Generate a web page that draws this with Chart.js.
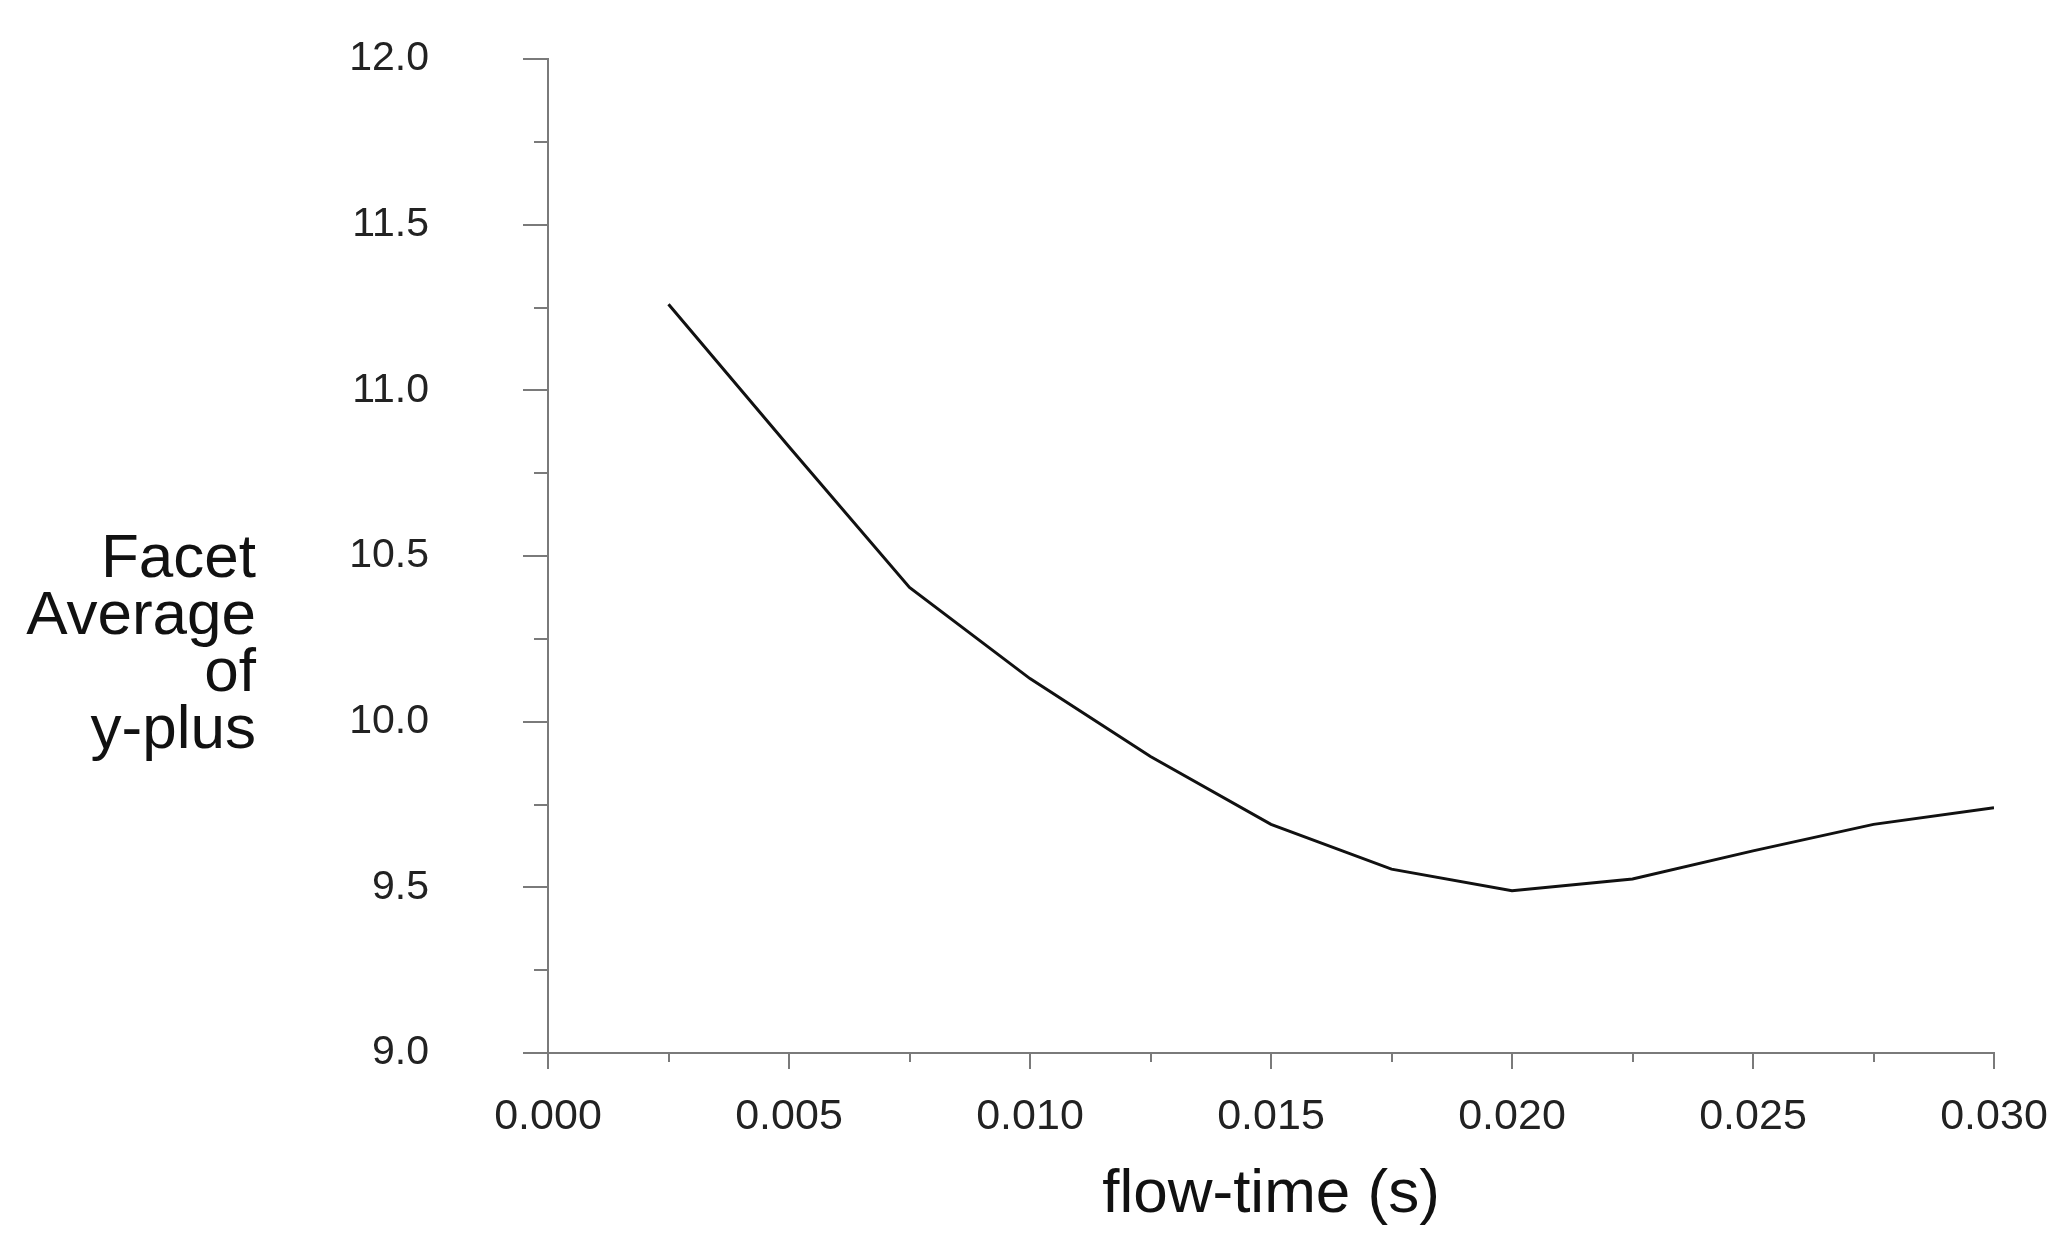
<!DOCTYPE html>
<html>
<head>
<meta charset="utf-8">
<script src="https://cdn.jsdelivr.net/npm/chart.js@4.4.0/dist/chart.umd.min.js"></script>
<style>
  body { margin: 0; background: #fff; }
</style>
</head>
<body>
<canvas id="yplusChart" width="2057" height="1258"></canvas>
<script>
// values
const flowTime = [0.0025, 0.005, 0.0075, 0.010, 0.0125, 0.015, 0.0175, 0.020, 0.0225, 0.025, 0.0275, 0.030];
const yPlus = [11.26, 10.83, 10.405, 10.13, 9.895, 9.69, 9.555, 9.49, 9.525, 9.61, 9.69, 9.74];

const xMinorTicks = [0.0025, 0.0075, 0.0125, 0.0175, 0.0225, 0.0275];
const yMinorTicks = [9.25, 9.75, 10.25, 10.75, 11.25, 11.75];
const yTitleLines = ['Facet', 'Average', 'of', 'y-plus'];
const xTitle = 'flow-time (s)';

const axisColor = '#7a7a7a';
const fontName = '"Liberation Sans", Arial, sans-serif';

// short minor ticks + the stacked y title
const extras = {
  id: 'extras',
  afterDraw(chart) {
    const { ctx, scales: { x, y } } = chart;
    ctx.save();
    ctx.strokeStyle = axisColor;
    ctx.lineWidth = 2;
    yMinorTicks.forEach(function (v) {
      const py = Math.round(y.getPixelForValue(v));
      ctx.beginPath();
      ctx.moveTo(y.right - 14, py);
      ctx.lineTo(y.right, py);
      ctx.stroke();
    });
    xMinorTicks.forEach(function (v) {
      const px = Math.round(x.getPixelForValue(v));
      ctx.beginPath();
      ctx.moveTo(px, x.top);
      ctx.lineTo(px, x.top + 9);
      ctx.stroke();
    });

    ctx.fillStyle = '#111';
    ctx.font = '62px ' + fontName;
    ctx.textAlign = 'right';
    ctx.textBaseline = 'middle';
    yTitleLines.forEach(function (t, i) {
      ctx.fillText(t, 256, 560 + i * 57);
    });
    ctx.restore();
  }
};

const yplusChart = document.getElementById('yplusChart');

new Chart(yplusChart, {
  type: 'line',
  data: {
    datasets: [{
      data: flowTime.map((t, i) => ({ x: t, y: yPlus[i] })),
      borderColor: '#111',
      borderWidth: 3,
      pointRadius: 0,
      tension: 0,
      fill: false
    }]
  },
  options: {
    responsive: false,
    animation: false,
    layout: { padding: { top: 59, right: 63, left: 0, bottom: 0 } },
    plugins: {
      legend: { display: false },
      tooltip: { enabled: false }
    },
    scales: {
      x: {
        type: 'linear',
        min: 0,
        max: 0.03,
        afterFit: function (scale) {
          scale.height = 205;
          scale.paddingLeft = 0;
          scale.paddingRight = 0;
        },
        grid: { drawOnChartArea: false, tickLength: 16, color: axisColor, lineWidth: 2 },
        border: { color: axisColor, width: 2 },
        ticks: {
          stepSize: 0.005,
          padding: 22,
          color: '#222',
          font: { family: fontName, size: 43 },
          callback: v => v.toFixed(3)
        },
        title: {
          display: true,
          text: xTitle,
          color: '#111',
          font: { family: fontName, size: 62 },
          padding: { top: 0, bottom: 26 }
        }
      },
      y: {
        min: 9,
        max: 12,
        afterFit: function (scale) {
          scale.width = 548;
          scale.paddingTop = 0;
          scale.paddingBottom = 0;
        },
        grid: { drawOnChartArea: false, tickLength: 25, color: axisColor, lineWidth: 2 },
        border: { color: axisColor, width: 2 },
        ticks: {
          stepSize: 0.5,
          padding: 94,
          color: '#222',
          font: { family: fontName, size: 41 },
          callback: v => v.toFixed(1)
        }
      }
    }
  },
  plugins: [extras]
});
</script>
</body>
</html>
